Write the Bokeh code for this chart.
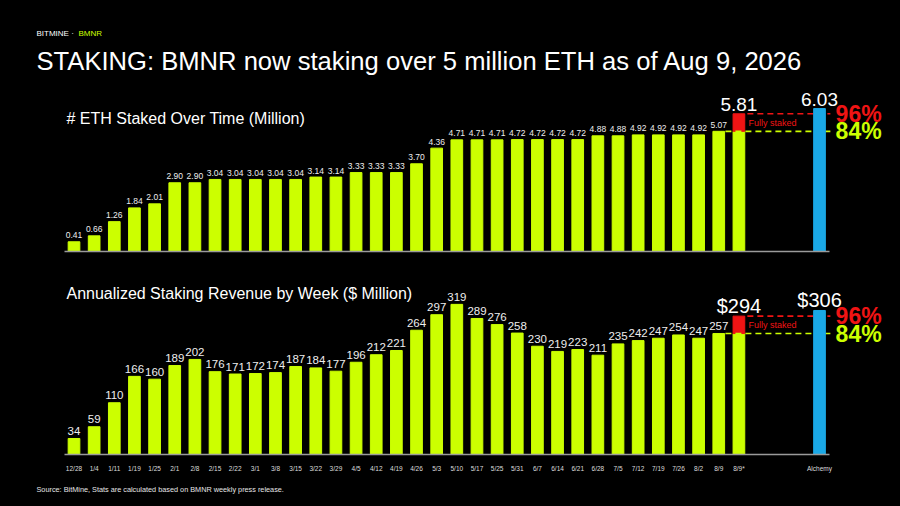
from bokeh.plotting import figure
from bokeh.models import Range1d, Label, FixedTicker
from bokeh.layouts import column
from bokeh.embed import file_html
from bokeh.resources import INLINE
from bokeh.core.properties import value

# ---------------- data ----------------
weeks = ["12/28", "1/4", "1/11", "1/19", "1/25", "2/1", "2/8", "2/15", "2/22", "3/1",
         "3/8", "3/15", "3/22", "3/29", "4/5", "4/12", "4/19", "4/26", "5/3", "5/10",
         "5/17", "5/25", "5/31", "6/7", "6/14", "6/21", "6/28", "7/5", "7/12", "7/19",
         "7/26", "8/2", "8/9"]
projection_label = "8/9*"
benchmark_label = "Alchemy"

eth_staked = [0.41, 0.66, 1.26, 1.84, 2.01, 2.90, 2.90, 3.04, 3.04, 3.04,
              3.04, 3.04, 3.14, 3.14, 3.33, 3.33, 3.33, 3.70, 4.36, 4.71,
              4.71, 4.71, 4.72, 4.72, 4.72, 4.72, 4.88, 4.88, 4.92, 4.92,
              4.92, 4.92, 5.07]
eth_fully_staked = 5.81
eth_alchemy = 6.03

revenue = [34, 59, 110, 166, 160, 189, 202, 176, 171, 172,
           174, 187, 184, 177, 196, 212, 221, 264, 297, 319,
           289, 276, 258, 230, 219, 223, 211, 235, 242, 247,
           254, 247, 257]
revenue_fully_staked = 294
revenue_alchemy = 306

# ---------------- style ----------------
LIME = "#CCFF00"
RED = "#F01414"
BLUE = "#1AA8E6"
WHITE = "#FFFFFF"
AXIS = "#9A9A9A"
FONT = "Liberation Sans"
W = 900
H1 = 264
H2 = 242
BAR_W = 0.58

n = len(weeks)
xs = list(range(n))
x_proj = n          # 8/9*
x_bench = n + 4     # Alchemy
tick_pos = xs + [x_proj, x_bench]
tick_lab = weeks + [projection_label, benchmark_label]

X_RANGE = (-3.648, 41.02)


def base_fig(h, y0, y1, show_labels):
    p = figure(width=W, height=h, x_range=Range1d(*X_RANGE), y_range=Range1d(y0, y1),
               output_backend="svg", toolbar_location=None, tools="",
               y_axis_location=None, min_border=0,
               min_border_left=0, min_border_right=0, min_border_top=0, min_border_bottom=0)
    p.background_fill_color = "black"
    p.border_fill_color = "black"
    p.outline_line_color = None
    p.grid.visible = False
    ax = p.xaxis[0]
    ax.fixed_location = 0
    if show_labels:
        ax.ticker = FixedTicker(ticks=tick_pos)
        ax.major_label_overrides = {t: l for t, l in zip(tick_pos, tick_lab)}
    else:
        ax.ticker = FixedTicker(ticks=[])
    ax.major_tick_line_color = None
    ax.minor_tick_line_color = None
    ax.axis_line_color = AXIS
    ax.axis_line_width = 1.5
    ax.bounds = (-0.45, x_bench + 0.5)
    ax.major_label_text_color = "#DDDDDD"
    ax.major_label_text_font = FONT
    ax.major_label_text_font_size = "6.5px"
    ax.major_label_standoff = 5
    return p


def panel(p, vals, full, bench, small_fmt, small_size, small_off, big_fmt, big_size, big_off):
    last = vals[-1]
    # weekly bars
    p.vbar(x=xs, top=vals, width=BAR_W, color=LIME)
    # projection bar: current (lime) + fully staked uplift (red)
    p.vbar(x=[x_proj], bottom=[0], top=[last], width=BAR_W, color=LIME)
    p.vbar(x=[x_proj], bottom=[last], top=[full], width=BAR_W, color=RED)
    # dashed reference lines (behind benchmark bar)
    p.segment(x0=[x_proj + 0.42], x1=[x_bench + 0.54], y0=[full], y1=[full],
              line_color=RED, line_width=1.6, line_dash="6 4")
    p.segment(x0=[x_proj - 0.67], x1=[x_bench + 0.54], y0=[last], y1=[last],
              line_color=LIME, line_width=1.6, line_dash="6 4")
    # benchmark bar
    p.vbar(x=[x_bench], top=[bench], width=BAR_W, color=BLUE)
    # small value labels
    p.text(x=xs, y=vals, text=[small_fmt.format(v) for v in vals],
           text_color="#EEEEEE", text_font=value(FONT), text_font_size=small_size,
           text_align="center", text_baseline="alphabetic", y_offset=-small_off)
    # big labels
    p.text(x=[x_proj, x_bench], y=[full, bench],
           text=[big_fmt.format(full), big_fmt.format(bench)],
           text_color=WHITE, text_font=value(FONT), text_font_size=big_size,
           text_align="center", text_baseline="alphabetic", y_offset=-big_off)
    # "Fully staked"
    p.text(x=[x_proj + 0.47], y=[(last + full) / 2], text=["Fully staked"],
           text_color=RED, text_font=value(FONT), text_font_size="9px",
           text_align="left", text_baseline="middle")
    # percentage labels
    pct_full = "{:.0f}%".format(100 * full / bench)
    pct_now = "{:.0f}%".format(100 * last / bench)
    p.text(x=[x_bench + 0.8], y=[full], text=[pct_full], text_color=RED,
           text_font=value(FONT), text_font_size="23px", text_font_style="bold",
           text_align="left", text_baseline="middle")
    p.text(x=[x_bench + 0.8], y=[last], text=[pct_now], text_color=LIME,
           text_font=value(FONT), text_font_size="23px", text_font_style="bold",
           text_align="left", text_baseline="middle")


# ---------------- top figure ----------------
p1 = base_fig(H1, -0.549, 10.59, False)
panel(p1, eth_staked, eth_fully_staked, eth_alchemy, "{:.2f}", "8.5px", 6.5, "{:.2f}", "19px", 9)

p1.add_layout(Label(x=36, y=H1 - 33, x_units="screen", y_units="screen", text="BITMINE · ",
                    text_color=WHITE, text_font=FONT, text_font_size="8px",
                    text_baseline="middle"))
p1.add_layout(Label(x=78, y=H1 - 33, x_units="screen", y_units="screen", text="BMNR",
                    text_color=LIME, text_font=FONT, text_font_size="8px",
                    text_baseline="middle"))
p1.add_layout(Label(x=36, y=H1 - 60, x_units="screen", y_units="screen",
                    text="STAKING: BMNR now staking over 5 million ETH as of Aug 9, 2026",
                    text_color=WHITE, text_font=FONT, text_font_size="25.6px",
                    text_baseline="middle"))
p1.add_layout(Label(x=66, y=H1 - 118, x_units="screen", y_units="screen",
                    text="# ETH Staked Over Time (Million)",
                    text_color=WHITE, text_font=FONT, text_font_size="16px",
                    text_baseline="middle"))

# ---------------- bottom figure ----------------
p2 = base_fig(H2, -110.5, 403.7, True)
panel(p2, revenue, revenue_fully_staked, revenue_alchemy, "{:d}", "11.5px", 7.5, "${:d}", "20px", 10)

p2.add_layout(Label(x=66, y=H2 - 29, x_units="screen", y_units="screen",
                    text="Annualized Staking Revenue by Week ($ Million)",
                    text_color=WHITE, text_font=FONT, text_font_size="16px",
                    text_baseline="middle"))
p2.add_layout(Label(x=36, y=H2 - 225, x_units="screen", y_units="screen",
                    text="Source: BitMine, Stats are calculated based on BMNR weekly press release.",
                    text_color="#E6E6E6", text_font=FONT, text_font_size="7.3px",
                    text_baseline="middle"))

layout = column(p1, p2, spacing=0)
layout.background = "black"

html = file_html(layout, INLINE, title="BMNR staking")
html = html.replace("</head>", "<style>html, body { background-color: #000000; }</style></head>", 1)
open("out.html", "w").write(html)
